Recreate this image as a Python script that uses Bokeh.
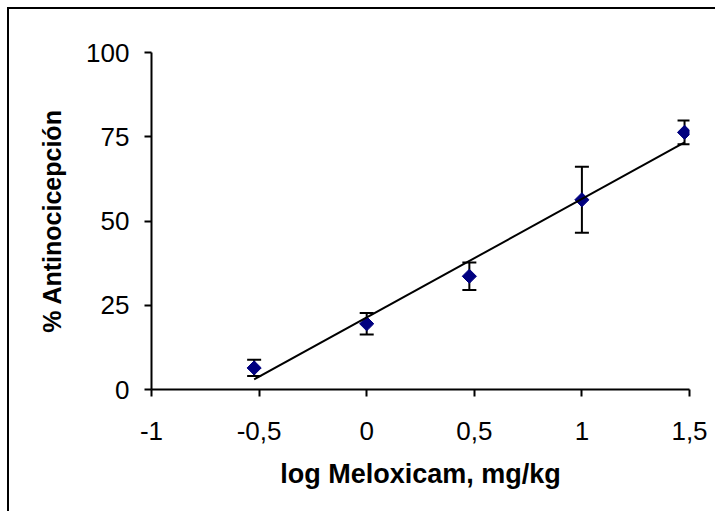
import numpy as np
from bokeh.plotting import figure
from bokeh.models import Range1d, FixedTicker, Whisker, ColumnDataSource, TeeHead
from bokeh.embed import file_html
from bokeh.resources import INLINE

# ---- data ----
dose_log = [-0.523, 0.0, 0.477, 1.0, 1.477]          # log Meloxicam, mg/kg
antinociception = [6.4, 19.5, 33.6, 56.3, 76.3]      # % Antinocicepción (mean)
sem = [2.4, 3.2, 4.1, 9.8, 3.5]                      # error bar half-length
fit_x = [-0.523, 1.477]                              # regression line ends
fit_y = [3.0, 73.3]
x_ticks = [-1, -0.5, 0, 0.5, 1, 1.5]
x_tick_labels = ["-1", "-0,5", "0", "0,5", "1", "1,5"]
y_ticks = [0, 25, 50, 75, 100]
y_tick_labels = ["0", "25", "50", "75", "100"]

FONT = "Liberation Sans"

src = ColumnDataSource(dict(
    x=dose_log,
    y=antinociception,
    upper=[m + e for m, e in zip(antinociception, sem)],
    lower=[m - e for m, e in zip(antinociception, sem)],
))

p = figure(width=708, height=504, output_backend="svg", toolbar_location=None,
           x_range=Range1d(-1, 1.5), y_range=Range1d(0, 100),
           min_border_left=142, min_border_right=28, min_border_top=43,
           min_border_bottom=124)
p.styles = {"border-top": "2px solid black", "border-left": "2px solid black",
            "margin-left": "7px", "margin-top": "7px"}

p.background_fill_color = "white"
p.border_fill_color = "white"
p.outline_line_color = None
p.xgrid.visible = False
p.ygrid.visible = False

err = Whisker(base="x", upper="upper", lower="lower", source=src,
              line_color="black", line_width=2,
              upper_head=TeeHead(size=14, line_color="black", line_width=2),
              lower_head=TeeHead(size=14, line_color="black", line_width=2))
p.add_layout(err)

p.scatter("x", "y", source=src, marker="square", size=10, angle=np.pi / 4,
          fill_color="#000080", line_color="#000080")
p.line(fit_x, fit_y, line_color="black", line_width=2)

for ax, ticks, labels in ((p.xaxis[0], x_ticks, x_tick_labels),
                          (p.yaxis[0], y_ticks, y_tick_labels)):
    ax.ticker = FixedTicker(ticks=ticks)
    ax.major_label_overrides = {t: l for t, l in zip(ticks, labels)}
    ax.minor_tick_line_color = None
    ax.major_tick_in = 0
    ax.major_tick_out = 7
    ax.axis_line_width = 2
    ax.major_tick_line_width = 2
    ax.axis_line_color = "black"
    ax.major_tick_line_color = "black"
    ax.major_label_text_font = FONT
    ax.major_label_text_font_size = "26px"
    ax.major_label_text_color = "black"
    ax.axis_label_text_font = FONT
    ax.axis_label_text_font_style = "bold"
    ax.axis_label_text_color = "black"

p.xaxis.axis_label = "log Meloxicam, mg/kg"
p.xaxis.axis_label_text_font_size = "27px"
p.xaxis.major_label_standoff = 25
p.xaxis.axis_label_standoff = 16

p.yaxis.axis_label = "% Antinocicepción"
p.yaxis.axis_label_text_font_size = "25px"
p.yaxis.major_label_standoff = 15
p.yaxis.axis_label_standoff = 17

open("out.html", "w").write(file_html(p, INLINE))
